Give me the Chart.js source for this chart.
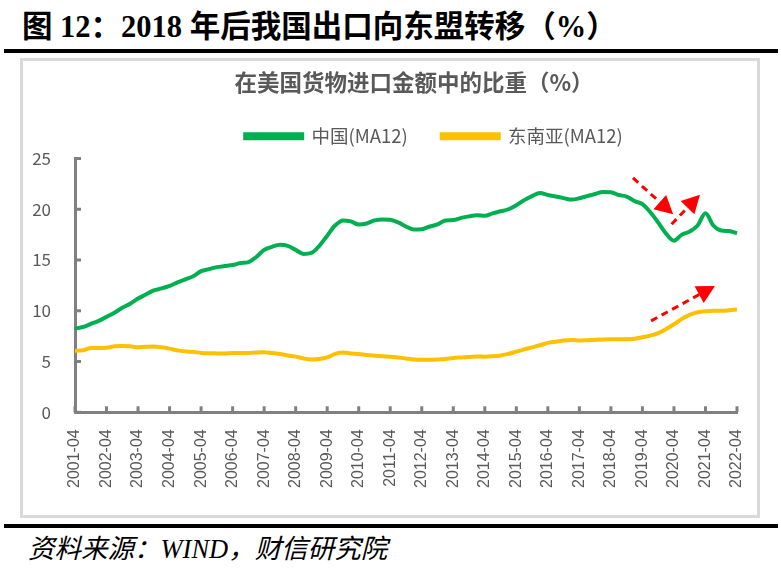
<!DOCTYPE html>
<html>
<head>
<meta charset="utf-8">
<script src="https://cdn.jsdelivr.net/npm/chart.js@4.4.1/dist/chart.umd.min.js"></script>
<style>
  body { margin: 0; width: 781px; height: 573px; background: #fff; position: relative; overflow: hidden; }
  #head { position: absolute; left: 22px; top: 7px; font: bold 30.5px "Liberation Serif", "Noto Sans CJK SC", serif; line-height: 40px; white-space: nowrap; color: #000; }
  .bar { position: absolute; left: 4px; width: 774px; height: 4px; background: #000; }
  #box { position: absolute; left: 20px; top: 58px; width: 734px; height: 454px; border: 3px solid #d9d9d9; }
  #foot { position: absolute; left: 28px; top: 531px; font: italic 26.5px "Liberation Serif", "Noto Sans CJK SC", serif; line-height: 36px; white-space: nowrap; color: #000; }
</style>
</head>
<body>
<div id="head">图 12：2018 年后我国出口向东盟转移（%）</div>
<div class="bar" style="top:49px"></div>
<div id="box"><canvas id="chart" width="734" height="454"></canvas></div>
<div class="bar" style="top:524px"></div>
<div id="foot">资料来源：WIND，财信研究院</div>

<script>
// =============================
// Data (quarterly readings, 2001-04 .. 2022-04)
// =============================
const labels = [];
for (let yr = 2001; yr <= 2022; yr++) {
  ["04", "07", "10"].forEach(m => labels.push(yr + "-" + m));
  if (yr < 2022) labels.push((yr + 1) + "-01");
}
labels.length = 85;

const china = [
  8.24, 8.4, 8.7, 9.0,
  9.4, 9.8, 10.3, 10.7,
  11.2, 11.6, 12.0, 12.2,
  12.45, 12.8, 13.1, 13.4,
  13.9, 14.1, 14.3, 14.4,
  14.5, 14.7, 14.8, 15.3,
  16.0, 16.3, 16.5, 16.4,
  16.0, 15.6, 15.7, 16.4,
  17.4, 18.4, 18.9, 18.8,
  18.5, 18.6, 18.9, 19.0,
  18.96, 18.7, 18.3, 18.0,
  18.03, 18.3, 18.5, 18.9,
  18.93, 19.15, 19.3, 19.4,
  19.36, 19.6, 19.8, 20.0,
  20.4, 20.9, 21.3, 21.6,
  21.4, 21.25, 21.1, 20.95,
  21.08, 21.3, 21.5, 21.7,
  21.68, 21.4, 21.25, 20.8,
  20.5, 19.7, 18.7, 17.6,
  16.9, 17.5, 17.8, 18.4,
  19.6, 18.4, 17.9, 17.85,
  17.63
];

const asean = [
  6.07, 6.1, 6.34, 6.34,
  6.36, 6.5, 6.54, 6.5,
  6.4, 6.45, 6.47, 6.4,
  6.27, 6.1, 6.0, 5.95,
  5.85, 5.82, 5.8, 5.78,
  5.85, 5.85, 5.85, 5.9,
  5.92, 5.85, 5.75, 5.6,
  5.48, 5.3, 5.2, 5.25,
  5.41, 5.75, 5.88, 5.8,
  5.75, 5.65, 5.58, 5.52,
  5.48, 5.4, 5.3, 5.2,
  5.18, 5.18, 5.2, 5.25,
  5.35, 5.4, 5.45, 5.5,
  5.48, 5.52, 5.6, 5.75,
  5.98, 6.2, 6.4, 6.6,
  6.84, 6.95, 7.07, 7.12,
  7.07, 7.1, 7.14, 7.18,
  7.2, 7.2, 7.2, 7.25,
  7.4, 7.55, 7.8, 8.2,
  8.67, 9.2, 9.6, 9.85,
  9.96, 10.0, 10.0, 10.05,
  10.13
];

const yTicks = [0, 5, 10, 15, 20, 25];

// red dashed arrows, in (category index, value)
const arrows = [
  { from: [70.8, 23.08], to: [75.9, 19.52] },
  { from: [75.7, 18.53], to: [79.3, 21.44] },
  { from: [73.1, 9.0], to: [81.2, 12.45] }
];

const AXIS = "#808080";
const TEXT = "#595959";
const SANS = '"Noto Sans CJK SC", sans-serif';

// =============================
// Inside tick marks + title/legend nudge
// =============================
const insideTicks = {
  id: "insideTicks",
  afterLayout(chart) {
    // title and legend in the original sit a little right of centre
    chart.legend.left += 28;
    chart.legend.right += 28;
    chart.legend.top -= 3;
    chart.legend.bottom -= 3;
    chart.titleBlock.left += 8;
    chart.titleBlock.right += 8;
  },
  afterDraw(chart) {
    const { ctx, scales: { x, y }, chartArea } = chart;
    ctx.save();
    ctx.strokeStyle = AXIS;
    ctx.lineWidth = 3;
    x.ticks.forEach((t, i) => {
      if (t.label == null) return;
      const px = x.getPixelForTick(i);
      ctx.beginPath();
      ctx.moveTo(px, chartArea.bottom);
      ctx.lineTo(px, chartArea.bottom - 6);
      ctx.stroke();
    });
    y.ticks.forEach((t, i) => {
      const py = y.getPixelForTick(i);
      ctx.beginPath();
      ctx.moveTo(chartArea.left, py);
      ctx.lineTo(chartArea.left + 6, py);
      ctx.stroke();
    });
    ctx.restore();
  }
};

// =============================
// Arrow annotations
// =============================
const arrowPlugin = {
  id: "arrowPlugin",
  afterDatasetsDraw(chart) {
    const { ctx, scales: { x, y } } = chart;
    ctx.save();
    arrows.forEach(a => {
      const x0 = x.getPixelForValue(a.from[0]), y0 = y.getPixelForValue(a.from[1]);
      const x1 = x.getPixelForValue(a.to[0]), y1 = y.getPixelForValue(a.to[1]);
      const ang = Math.atan2(y1 - y0, x1 - x0);
      const len = 18, half = 9.5;
      const bx = x1 - len * Math.cos(ang), by = y1 - len * Math.sin(ang);
      ctx.strokeStyle = "#ff0000";
      ctx.lineWidth = 3;
      ctx.setLineDash([7, 5]);
      ctx.beginPath();
      ctx.moveTo(x0, y0);
      ctx.lineTo(bx, by);
      ctx.stroke();
      ctx.setLineDash([]);
      ctx.fillStyle = "#ff0000";
      ctx.beginPath();
      ctx.moveTo(x1, y1);
      ctx.lineTo(bx + half * Math.sin(ang), by - half * Math.cos(ang));
      ctx.lineTo(bx - half * Math.sin(ang), by + half * Math.cos(ang));
      ctx.closePath();
      ctx.fill();
    });
    ctx.restore();
  }
};

new Chart(document.getElementById("chart"), {
  type: "line",
  data: {
    labels: labels,
    datasets: [
      {
        label: "中国(MA12)",
        data: china,
        borderColor: "#00b050",
        backgroundColor: "#00b050",
        borderWidth: 4,
        pointRadius: 0,
        cubicInterpolationMode: "monotone"
      },
      {
        label: "东南亚(MA12)",
        data: asean,
        borderColor: "#ffc000",
        backgroundColor: "#ffc000",
        borderWidth: 4,
        pointRadius: 0,
        cubicInterpolationMode: "monotone"
      }
    ]
  },
  options: {
    responsive: false,
    animation: false,
    layout: { padding: { left: 10, right: 20, top: 0, bottom: 10 } },
    plugins: {
      title: {
        display: true,
        fullSize: false,
        text: "在美国货物进口金额中的比重（%）",
        color: TEXT,
        font: { family: SANS, size: 22.5, weight: "bold" },
        padding: { top: 8, bottom: 0 }
      },
      legend: {
        position: "top",
        fullSize: false,
        labels: {
          color: TEXT,
          font: { family: SANS, size: 18.5 },
          boxWidth: 57,
          boxHeight: 4,
          padding: 34
        }
      },
      tooltip: { enabled: false }
    },
    scales: {
      x: {
        type: "category",
        offset: false,
        afterFit: scale => { scale.paddingLeft = 0; scale.paddingRight = 0; },
        grid: { drawOnChartArea: false, drawTicks: false },
        border: { display: true, color: AXIS, width: 3 },
        ticks: {
          autoSkip: false,
          minRotation: 90,
          maxRotation: 90,
          padding: 17,
          color: TEXT,
          font: { family: '"Liberation Sans", Arial, sans-serif', size: 16 },
          callback: (val, i) => (i % 4 === 0 ? labels[i] : null)
        }
      },
      y: {
        min: 0,
        max: 25,
        afterBuildTicks: scale => { scale.ticks = yTicks.map(v => ({ value: v })); },
        afterFit: scale => { scale.width = 42; },
        grid: { drawOnChartArea: false, drawTicks: false },
        border: { display: true, color: AXIS, width: 3 },
        ticks: {
          padding: 24,
          color: TEXT,
          font: { family: SANS, size: 17 }
        }
      }
    }
  },
  plugins: [insideTicks, arrowPlugin]
});
</script>
</body>
</html>
